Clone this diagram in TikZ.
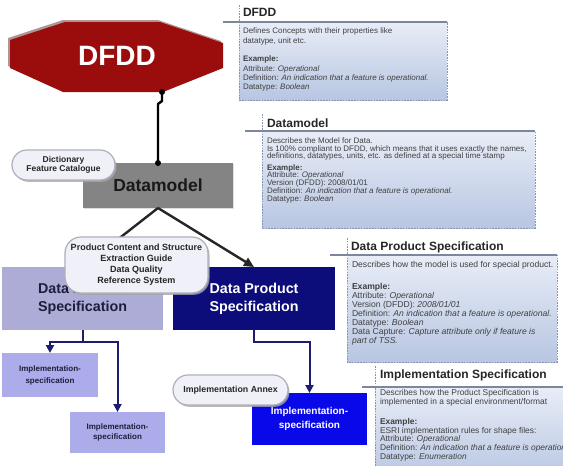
\documentclass[tikz,border=0pt]{standalone}
\usepackage{fontspec}
\setmainfont{Liberation Sans}
\usetikzlibrary{arrows.meta,shadows}

\definecolor{dfddred}{RGB}{155,12,12}
\definecolor{dfddshade}{RGB}{175,150,150}
\definecolor{dmgrey}{RGB}{132,132,132}
\definecolor{lavender}{RGB}{172,172,214}
\definecolor{implav}{RGB}{172,172,234}
\definecolor{navyspec}{RGB}{12,12,122}
\definecolor{brightblue}{RGB}{8,8,232}
\definecolor{notetop}{RGB}{232,237,247}
\definecolor{notebot}{RGB}{184,198,226}
\definecolor{noteedge}{RGB}{135,148,178}
\definecolor{headrule}{RGB}{125,135,155}
\definecolor{pillfill}{RGB}{240,241,248}
\definecolor{pilledge}{RGB}{175,175,185}
\definecolor{linknavy}{RGB}{28,28,112}
\definecolor{darktext}{RGB}{30,30,60}

% one explanatory panel: left, top, right, bottom, start of heading rule, top of dashed edge
\newcommand{\notepanel}[6]{%
  \shade[top color=notetop,bottom color=notebot] (#1,#2) rectangle (#3,#4);
  \draw[noteedge,line width=0.8pt,dash pattern=on 1.6pt off 1.2pt] (#1,#6) -- (#1,#4) -- (#3,#4) -- (#3,#2);
  \draw[headrule,line width=1.3pt] (#5,#2) -- (#3,#2);
}

\begin{document}
\begin{tikzpicture}[x=1pt,y=-1pt,
  every node/.style={inner sep=0pt,outer sep=0pt},
  block/.style={rectangle,align=center,font=\bfseries},
  pill/.style={rectangle,rounded corners=#1,fill=pillfill,draw=pilledge,line width=1.2pt,
    align=center,font=\bfseries,text=black!85,
    drop shadow={shadow xshift=1.5pt,shadow yshift=-1.8pt,fill=black!35,opacity=0.8}},
  pill/.default=14pt,
  notetitle/.style={anchor=base west,font=\bfseries\fontsize{12}{14}\selectfont,text=black!85},
  notebody/.style={anchor=north west,align=left,text=black!75},
  pinline/.style={line width=2.4pt,black},
  pindot/.style={circle,fill=black,minimum size=6pt},
  treeline/.style={line width=2.4pt,black!85,-{Triangle[length=10pt,width=9pt]}},
  navylink/.style={line width=2pt,linknavy,-{Triangle[length=8pt,width=8pt]}},
]
\clip (0,0) rectangle (563,466);
\fill[white] (0,0) rectangle (563,466);

% ---------- explanatory panels ----------
\notepanel{239}{22}{447}{100}{223}{5}
\node[notetitle] (tdfdd) at (243,16.5) {DFDD};
\node[notebody,font=\fontsize{8}{9.3}\selectfont] (bdfdd) at (243,28) {%
  Defines Concepts with their properties like\\
  datatype, unit etc.\\[9.6pt]
  \textbf{Example:}\\
  Attribute: \textit{Operational}\\
  Definition: \textit{An indication that a feature is operational.}\\
  Datatype: \textit{Boolean}};

\notepanel{262}{131}{535}{228}{245}{114}
\node[notetitle] (tdm) at (267,127) {Datamodel};
\node[notebody,font=\fontsize{8}{7.8}\selectfont] (bdm) at (267,137.5) {%
  Describes the Model for Data.\\
  Is 100\% compliant to DFDD, which means that it uses exactly the names,\\
  definitions, datatypes, units, etc. as defined at a special time stamp\\[3.4pt]
  \textbf{Example:}\\
  Attribute: \textit{Operational}\\
  Version (DFDD): 2008/01/01\\
  Definition: \textit{An indication that a feature is operational.}\\
  Datatype: \textit{Boolean}};

\notepanel{347}{255}{557}{362}{330}{238}
\node[notetitle] (tdps) at (351,250.5) {Data Product Specification};
\node[notebody,font=\fontsize{8.6}{7.9}\selectfont] (bdps) at (352,261.5) {%
  Describes how the model is used for special product.\\[13pt]
  \textbf{Example:}\\
  Attribute: \textit{Operational}\\
  Version (DFDD): \textit{2008/01/01}\\
  Definition: \textit{An indication that a feature is operational.}\\
  Datatype: \textit{Boolean}\\
  Data Capture: \textit{Capture attribute only if feature is}\\
  \textit{part of TSS.}};

\notepanel{375}{387}{580}{480}{362}{366}
\node[notetitle] (timpl) at (380,378) {Implementation Specification};
\node[notebody,font=\fontsize{8.4}{7.7}\selectfont] (bimpl) at (380,389.5) {%
  Describes how the Product Specification is\\
  implemented in a special environment/format\\[11pt]
  \textbf{Example:}\\
  ESRI implementation rules for shape files:\\
  Attribute: \textit{Operational}\\
  Definition: \textit{An indication that a feature is operational.}\\
  Datatype: \textit{Enumeration}};

% ---------- DFDD octagon ----------
\fill[dfddshade] (8,38) -- (63,20) -- (158,20) -- (221,41) -- (221,66) -- (161,90) -- (61,90) -- (8,66) -- cycle;
\fill[dfddred] (10,40) -- (65,22) -- (160,22) -- (223,43) -- (223,68) -- (163,92) -- (63,92) -- (10,68) -- cycle;
\node[block,text=white,font=\bfseries\fontsize{28}{30}\selectfont] (dfdd) at (117,56) {DFDD};
\coordinate (dfddpin) at (162,92);

% ---------- Datamodel ----------
\node[block,fill=dmgrey,minimum width=150pt,minimum height=45pt,
  font=\bfseries\fontsize{17.5}{20}\selectfont,text=black!90,
  drop shadow={shadow xshift=1pt,shadow yshift=-1pt,fill=black!25}] (dm) at (158,185.5) {Datamodel};
\node[pill=15pt,minimum width=103pt,minimum height=30pt,font=\bfseries\fontsize{8.5}{9}\selectfont] (dict) at (63.5,165) {Dictionary\\Feature Catalogue};

\draw[pinline] (dfddpin) -- ++(0,9) -- ++(-4,3) -- (dm.north);
\node[pindot] (pintop) at (dfddpin) {};
\node[pindot] (pinbot) at (dm.north) {};

% ---------- Data Product Specifications ----------
\node[block,fill=lavender,minimum width=161pt,minimum height=63pt,
  font=\bfseries\fontsize{14.3}{18}\selectfont,text=darktext] (dpsleft) at (82.5,298.5) {Data Product\\Specification};
\node[block,fill=navyspec,minimum width=162pt,minimum height=63pt,
  font=\bfseries\fontsize{14.3}{18}\selectfont,text=white] (dpsright) at (254,298.5) {Data Product\\Specification};

\draw[treeline] (dm.south) -- (dpsleft.north);
\draw[treeline] (dm.south) -- (dpsright.north);

\node[pill=16pt,minimum width=143pt,minimum height=56pt,font=\bfseries\fontsize{9}{11}\selectfont] (pcs) at (136.5,265) {Product Content and Structure\\Extraction Guide\\Data Quality\\Reference System};

% ---------- implementation specifications ----------
\node[block,fill=implav,minimum width=96pt,minimum height=44pt,
  font=\bfseries\fontsize{8}{12}\selectfont,text=darktext] (impl1) at (50,375) {Implementation-\\specification};
\node[block,fill=implav,minimum width=95pt,minimum height=41pt,
  font=\bfseries\fontsize{8}{10}\selectfont,text=darktext] (impl2) at (117.5,432.5) {Implementation-\\specification};
\node[block,fill=brightblue,minimum width=115pt,minimum height=52pt,
  font=\bfseries\fontsize{10}{14}\selectfont,text=white] (impl3) at (309.5,419) {Implementation-\\specification};

\draw[navylink] (dpsleft.south) -- ++(0,12) -| (impl1.north);
\draw[navylink] (dpsleft.south) -- ++(0,12) -| (impl2.north);
\draw[navylink] (dpsright.south) -- ++(0,12) -| (impl3.north);

\node[pill=15pt,minimum width=115pt,minimum height=30pt,font=\bfseries\fontsize{8.8}{10}\selectfont] (annex) at (230.5,390) {Implementation Annex};

\end{tikzpicture}
\end{document}
